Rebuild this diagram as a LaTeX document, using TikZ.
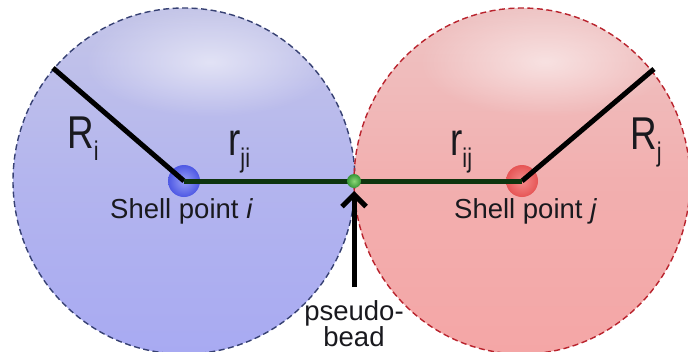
\documentclass[tikz,border=0pt]{standalone}
\usepackage{fontspec}
\setmainfont{Liberation Sans}
\usetikzlibrary{arrows.meta,fadings}
\tikzfading[name=glowfade, inner color=transparent!0, outer color=transparent!100]
\definecolor{bluebot}{RGB}{168,170,242}
\definecolor{bluetop}{RGB}{196,197,232}
\definecolor{blueedge}{RGB}{55,65,115}
\definecolor{redbot}{RGB}{244,166,166}
\definecolor{redtop}{RGB}{238,196,196}
\definecolor{rededge}{RGB}{185,35,45}
\definecolor{linegreen}{RGB}{14,52,14}
\definecolor{txt}{RGB}{25,25,30}
\newcommand\mysub[1]{\raisebox{-12pt}{\fontsize{27}{27}\selectfont #1}}
\newcommand\bigtxt[2]{\scalebox{0.8}[1]{#1\mysub{#2}}}
\tikzset{
  big/.style={font=\fontsize{46}{46}\selectfont, text=txt, inner sep=0pt, anchor=base west},
  small/.style={font=\fontsize{27.5}{27.5}\selectfont, text=txt, inner sep=0pt},
  rad/.style={line width=5pt, black},
  link/.style={line width=5pt, linegreen},
  rim/.style={line width=1.4pt, dash pattern=on 6pt off 3.5pt},
}
\begin{document}
\begin{tikzpicture}[x=1pt,y=-1pt]
\useasboundingbox (0,0) rectangle (688,351);
\coordinate (ci) at (184,181);
\coordinate (cj) at (522,181);
\coordinate (pb) at (354,181);
\coordinate (ri) at (53,68);
\coordinate (rj) at (654,69);
\coordinate (at) at (354,191);
\coordinate (ab) at (354,287);
\begin{scope}
\clip (0,0) rectangle (688,351);
% left sphere
\shade[top color=bluetop, bottom color=bluebot, middle color=bluebot!60!bluetop] (ci) ellipse [x radius=171pt, y radius=173pt];
\fill[white, path fading=glowfade, fill opacity=0.55] (210,62) ellipse [x radius=125pt, y radius=55pt];
% right sphere
\shade[top color=redtop, bottom color=redbot, middle color=redbot!70!redtop] (cj) ellipse [x radius=168pt, y radius=173pt];
\fill[white, path fading=glowfade, fill opacity=0.55] (545,62) ellipse [x radius=125pt, y radius=55pt];
\draw[blueedge, rim] (ci) ellipse [x radius=171pt, y radius=173pt];
\draw[rededge, rim] (cj) ellipse [x radius=168pt, y radius=173pt];
\end{scope}
% dots
\shade[inner color={rgb,255:red,150;green,158;blue,245}, outer color={rgb,255:red,78;green,88;blue,228}] (ci) circle (16pt);
\shade[inner color={rgb,255:red,245;green,140;blue,140}, outer color={rgb,255:red,230;green,85;blue,85}] (cj) circle (16pt);
% lines
\draw[rad] (ri) -- (ci);
\draw[rad] (rj) -- (cj);
\draw[link] (ci) -- (pb);
\draw[link] (pb) -- (cj);
\shade[inner color={rgb,255:red,140;green,215;blue,120}, outer color={rgb,255:red,55;green,150;blue,55}] (pb) circle (7pt);
% arrow
\draw[line width=5pt, black, -{Straight Barb[length=12pt,width=24pt]}] (ab) -- (at);
% labels
\node[big] (Ri) at (67,148) {\bigtxt{R}{i}};
\node[big] (rji) at (228,155) {\bigtxt{r}{ji}};
\node[big] (rij) at (450,155) {\bigtxt{r}{ij}};
\node[big] (Rj) at (630,149) {\bigtxt{R}{j}};
\node[small, anchor=base west] (spi) at (110,218) {Shell point \textit{i}};
\node[small, anchor=base west] (spj) at (454,218) {Shell point \textit{j}};
\node[small, anchor=base] (ps) at (354,320) {pseudo-};
\node[small, anchor=base] (bd) at (354,346) {bead};
\end{tikzpicture}
\end{document}
